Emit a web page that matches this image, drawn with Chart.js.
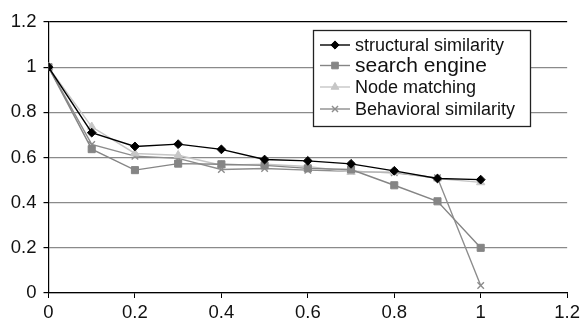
<!DOCTYPE html>
<html>
<head>
<meta charset="utf-8">
<script src="https://cdn.jsdelivr.net/npm/chart.js@4.4.1/dist/chart.umd.min.js"></script>
<style>
  html, body { margin: 0; padding: 0; background: #fff; }
  #wrap { width: 584px; height: 322px; }
</style>
</head>
<body>
<div id="wrap"><canvas id="c" width="584" height="322"></canvas></div>
<script>
// Sample positions along the x axis
const xValues = [0, 0.1, 0.2, 0.3, 0.4, 0.5, 0.6, 0.7, 0.8, 0.9, 1];

// Series values
const structuralSimilarity = [1, 0.71, 0.649, 0.659, 0.636, 0.591, 0.585, 0.572, 0.541, 0.507, 0.502];
const searchEngine         = [1, 0.637, 0.544, 0.573, 0.570, 0.565, 0.552, 0.547, 0.477, 0.406, 0.2];
const nodeMatching         = [1, 0.736, 0.618, 0.610, 0.566, 0.570, 0.560, 0.536, 0.536, 0.507, 0.49];
const behavioralSimilarity = [1, 0.658, 0.606, 0.596, 0.547, 0.551, 0.544, 0.539, 0.532, 0.510, 0.033];

// Series names
const seriesNames = ['structural similarity', 'search engine', 'Node matching', 'Behavioral similarity'];

// Axis tick labels
const xTickLabels = ['0', '0.2', '0.4', '0.6', '0.8', '1', '1.2'];
const yTickLabels = ['0', '0.2', '0.4', '0.6', '0.8', '1', '1.2'];

const FONT = '"Liberation Sans", Arial, sans-serif';

function pts(values) {
  return values.map((v, i) => ({ x: xValues[i], y: v }));
}

const series = [
  { values: structuralSimilarity, color: '#000000', style: 'rectRot',  radius: 4.4, legendSize: 18 },
  { values: searchEngine,         color: '#858585', style: 'rect',     radius: 5,   legendSize: 21 },
  { values: nodeMatching,         color: '#c6c6c6', style: 'triangle', radius: 4.8, legendSize: 18 },
  { values: behavioralSimilarity, color: '#8d8d8d', style: 'crossRot', radius: 4.6, legendSize: 18 }
];

const datasets = series.map((s, i) => ({
  label: seriesNames[i],
  data: pts(s.values),
  borderColor: s.color,
  backgroundColor: s.color,
  borderWidth: 1.4,
  pointStyle: s.style,
  pointRadius: s.radius,
  pointBorderWidth: s.style === 'crossRot' ? 1.4 : 1,
  pointBackgroundColor: s.color,
  pointBorderColor: s.color,
  tension: 0,
  legendSize: s.legendSize
}));

// Boxed legend drawn over the upper right of the plot
const boxLegend = {
  id: 'boxLegend',
  afterDraw(chart) {
    const ctx = chart.ctx;
    const left = 313.5, top = 30.5, w = 217, h = 96;
    ctx.save();
    ctx.fillStyle = '#ffffff';
    ctx.fillRect(left, top, w, h);
    ctx.strokeStyle = '#222';
    ctx.lineWidth = 1.3;
    ctx.strokeRect(left, top, w, h);
    const rows = [45, 65.5, 87, 109];
    chart.data.datasets.forEach((ds, i) => {
      const y = rows[i];
      ctx.strokeStyle = ds.borderColor;
      ctx.lineWidth = 1.4;
      ctx.beginPath();
      ctx.moveTo(320, y);
      ctx.lineTo(350, y);
      ctx.stroke();
      ctx.fillStyle = ds.pointBackgroundColor;
      ctx.strokeStyle = ds.pointBorderColor;
      ctx.lineWidth = ds.pointBorderWidth;
      Chart.helpers.drawPoint(ctx, {
        pointStyle: ds.pointStyle,
        radius: ds.pointRadius - 0.3,
        rotation: 0,
        borderWidth: ds.pointBorderWidth
      }, 335, y);
      ctx.fillStyle = '#111';
      ctx.font = ds.legendSize + 'px ' + FONT;
      ctx.textBaseline = 'middle';
      ctx.textAlign = 'left';
      ctx.fillText(ds.label, 355, y + 1);
    });
    ctx.restore();
  }
};

new Chart(document.getElementById('c'), {
  type: 'line',
  data: { datasets },
  options: {
    responsive: false,
    devicePixelRatio: 1,
    animation: false,
    layout: { padding: { top: 22, right: 16, left: 0, bottom: 0 } },
    plugins: {
      legend: { display: false },
      tooltip: { enabled: false }
    },
    scales: {
      x: {
        type: 'linear',
        min: 0,
        max: 1.2,
        border: { display: true, color: '#000', width: 1.2 },
        grid: {
          drawOnChartArea: false,
          drawTicks: true,
          tickLength: 5,
          tickColor: '#000'
        },
        ticks: {
          stepSize: 0.2,
          color: '#111',
          padding: 4,
          font: { family: FONT, size: 18.5 },
          maxRotation: 0,
          callback: (v) => xTickLabels[Math.round(v / 0.2)]
        },
        afterFit: (scale) => { scale.height = 29; }
      },
      y: {
        min: 0,
        max: 1.2,
        border: { display: true, color: '#000', width: 1.2 },
        grid: {
          drawTicks: true,
          tickLength: 5,
          tickColor: '#000',
          color: (c) => (c.tick && Math.abs(c.tick.value - 1.2) < 1e-6) ? '#000' : '#8a8a8a',
          lineWidth: 1.2
        },
        ticks: {
          stepSize: 0.2,
          color: '#111',
          padding: 7,
          font: { family: FONT, size: 18.5 },
          callback: (v) => yTickLabels[Math.round(v / 0.2)]
        },
        afterFit: (scale) => { scale.width = 48.5; }
      }
    }
  },
  plugins: [boxLegend]
});
</script>
</body>
</html>
